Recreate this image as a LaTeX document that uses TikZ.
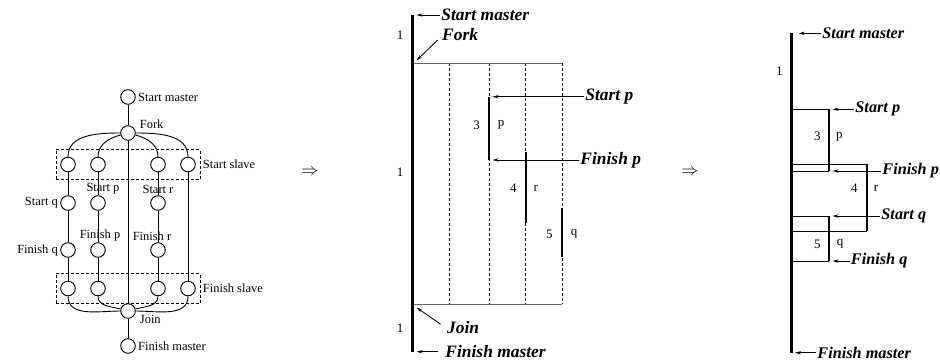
\documentclass[tikz,border=0pt]{standalone}
\usepackage{fontspec}
\setmainfont{Liberation Serif}
\usetikzlibrary{arrows.meta, positioning, fit}

\begin{document}
\begin{tikzpicture}[
    x=1bp, y=-1bp,
    line width=0.9bp,
    >={Stealth[length=6bp, width=3.2bp]},
    vertex/.style={draw, circle, minimum size=14.6bp, inner sep=0pt},
    lbl/.style={font=\fontsize{12.5}{14}\selectfont, inner sep=1bp},
    num/.style={font=\fontsize{13}{15}\selectfont, inner sep=0pt},
    tag/.style={font=\fontsize{17.5}{20}\selectfont\bfseries\itshape, inner sep=1bp, anchor=west},
    smalltag/.style={tag, font=\fontsize{16.3}{19}\selectfont\bfseries\itshape},
    slavebox/.style={draw, dash pattern=on 3bp off 2bp, inner xsep=4.3bp, inner ysep=7.3bp},
    master/.style={line width=2.6bp},
    task/.style={line width=2.3bp},
    barrier/.style={draw=black!60, line width=1.1bp},
    slave/.style={dash pattern=on 3bp off 2bp, line width=0.8bp},
    pointer/.style={->, line width=0.8bp},
    implies/.style={font=\fontsize{19}{21}\selectfont},
]
    \useasboundingbox (0,0) rectangle (940,362);

    % Task graph
    \node[vertex] (smaster) at (128,97) {};
    \node[vertex] (fork) at (128,133) {};
    \node[vertex] (ss1) at (68,164.5) {};
    \node[vertex] (ss2) at (98,164.5) {};
    \node[vertex] (ss3) at (158,164.5) {};
    \node[vertex] (ss4) at (188,164.5) {};
    \node[vertex] (sq) at (68,203) {};
    \node[vertex] (sp) at (98,203) {};
    \node[vertex] (sr) at (158,203) {};
    \node[vertex] (fq) at (68,250) {};
    \node[vertex] (fp) at (98,250) {};
    \node[vertex] (fr) at (158,250) {};
    \node[vertex] (fs1) at (68,288.5) {};
    \node[vertex] (fs2) at (98,288.5) {};
    \node[vertex] (fs3) at (158,288.5) {};
    \node[vertex] (fs4) at (188,288.5) {};
    \node[vertex] (join) at (128,311) {};
    \node[vertex] (fmaster) at (128,346) {};

    \draw (smaster) -- (fork) -- (join) -- (fmaster);
    \draw (ss1) -- (sq) -- (fq) -- (fs1);
    \draw (ss2) -- (sp) -- (fp) -- (fs2);
    \draw (ss3) -- (sr) -- (fr) -- (fs3);
    \draw (ss4) -- (fs4);
    \draw (fork) to[out=180, in=90] (ss1);
    \draw (fork) to[out=195, in=90] (ss2);
    \draw (fork) to[out=-15, in=90] (ss3);
    \draw (fork) to[out=0, in=90] (ss4);
    \draw (fs1) to[out=-90, in=180] (join);
    \draw (fs2) to[out=-90, in=165] (join);
    \draw (fs3) to[out=-90, in=15] (join);
    \draw (fs4) to[out=-90, in=0] (join);

    \node[slavebox, fit=(ss1)(ss4)] (sbox) {};
    \node[slavebox, fit=(fs1)(fs4)] (fbox) {};

    % Labels
    \node[lbl, right=1bp of smaster] {Start master};
    \node[lbl, above right=-3bp and 5bp of fork] {Fork};
    \node[lbl, right=1bp of sbox] {Start slave};
    \node[lbl, above=0bp of sp, xshift=5bp] {Start p};
    \node[lbl, above=0bp of sr] {Start r};
    \node[lbl, left=1bp of sq] {Start q};
    \node[lbl, above=0bp of fp, xshift=2bp] {Finish p};
    \node[lbl, above=0bp of fr, xshift=-6bp] {Finish r};
    \node[lbl, left=1bp of fq] {Finish q};
    \node[lbl, right=1bp of fbox] {Finish slave};
    \node[lbl, below right=-3bp and 5bp of join] {Join};
    \node[lbl, right=1bp of fmaster] {Finish master};

    \node[implies] (imp1) at (310,172) {$\Rightarrow$};
    \node[implies] (imp2) at (690,172) {$\Rightarrow$};

    % Unlimited processors
    \coordinate (mtop) at (412.7,15);
    \coordinate (mbot) at (412.7,352);
    \foreach \x in {449,489.3,525.7,562.3}
        \draw[slave] (\x,63.3) -- (\x,304.3);
    \draw[barrier] (412.7,63.3) -- (562.3,63.3);
    \draw[barrier] (412.7,304.3) -- (562.3,304.3);
    \draw[master] (mtop) -- (mbot);
    \draw[task] (489.3,96.7) -- (489.3,160);
    \draw[task] (525.7,152) -- (525.7,223.3);
    \draw[task] (562.3,207.7) -- (562.3,256.7);

    \node[num] at (400,35) {1};
    \node[num] at (400,172) {1};
    \node[num] at (400,328) {1};
    \node[num] at (476.7,125) {3};
    \node[num] at (501,125) {p};
    \node[num] at (513.3,188) {4};
    \node[num] at (535.7,188) {r};
    \node[num] at (549.3,234) {5};
    \node[num] at (574,234) {q};

    \coordinate (msm) at (416.5,15);
    \coordinate (mfork) at (416.5,60.5);
    \coordinate (msp) at (492.5,96.7);
    \coordinate (mfp) at (492.5,160);
    \coordinate (mjoin) at (416.5,307.5);
    \coordinate (mfm) at (416.5,351.7);

    \node[tag] (tsm) at (440,15) {Start master};
    \node[tag] (tfork) at (440.7,35) {Fork};
    \node[tag] (tsp) at (584,96.7) {Start p};
    \node[tag] (tfp) at (579,160) {Finish p};
    \node[tag] (tjoin) at (445.7,327.3) {Join};
    \node[tag] (tfm) at (444,351.7) {Finish master};

    \draw[pointer] (tsm) -- (msm);
    \draw[pointer] ([shift={(-3bp,-5bp)}]tfork.west) -- (mfork);
    \draw[pointer] (tsp) -- (msp);
    \draw[pointer] (tfp) -- (mfp);
    \draw[pointer] ([shift={(-5bp,3bp)}]tjoin.west) -- (mjoin);
    \draw[pointer] ([xshift=-6bp]tfm.west) -- (mfm);

    % One slave processor
    \coordinate (rtop) at (791.7,33.3);
    \coordinate (rbot) at (791.7,352.7);
    \draw (791.7,109.3) -- (829.3,109.3);
    \draw (791.7,171) -- (829.3,171);
    \draw (791.7,164) -- (867.3,164);
    \draw (791.7,231) -- (867.3,231);
    \draw (791.7,216) -- (829.3,216);
    \draw (791.7,261) -- (829.3,261);
    \draw[master] (rtop) -- (rbot);
    \draw[task] (829.3,109.3) -- (829.3,171);
    \draw[task] (867.3,164) -- (867.3,231);
    \draw[task] (829.3,216) -- (829.3,261);

    \node[num] at (779.3,71.7) {1};
    \node[num] at (817.3,136.7) {3};
    \node[num] at (839.3,136.7) {p};
    \node[num] at (854.3,188.3) {4};
    \node[num] at (876,188.3) {r};
    \node[num] at (817.3,244) {5};
    \node[num] at (840,244) {q};

    \coordinate (rsm) at (798.5,33.3);
    \coordinate (rsp) at (832.5,109.3);
    \coordinate (rfp) at (832.5,171);
    \coordinate (rsq) at (832.5,216);
    \coordinate (rfq) at (832.5,261);
    \coordinate (rfm) at (795,352.7);

    \node[smalltag] (usm) at (821,33.3) {Start master};
    \node[smalltag] (usp) at (854,109.3) {Start p};
    \node[smalltag] (ufp) at (881,171) {Finish p};
    \node[smalltag] (usq) at (880,216) {Start q};
    \node[smalltag] (ufq) at (849.5,261) {Finish q};
    \node[smalltag] (ufm) at (816,352.7) {Finish master};

    \draw[pointer] (usm) -- (rsm);
    \draw[pointer] (usp) -- (rsp);
    \draw[pointer] (ufp) -- (rfp);
    \draw[pointer] (usq) -- (rsq);
    \draw[pointer] (ufq) -- (rfq);
    \draw[pointer] (ufm) -- (rfm);
\end{tikzpicture}
\end{document}
